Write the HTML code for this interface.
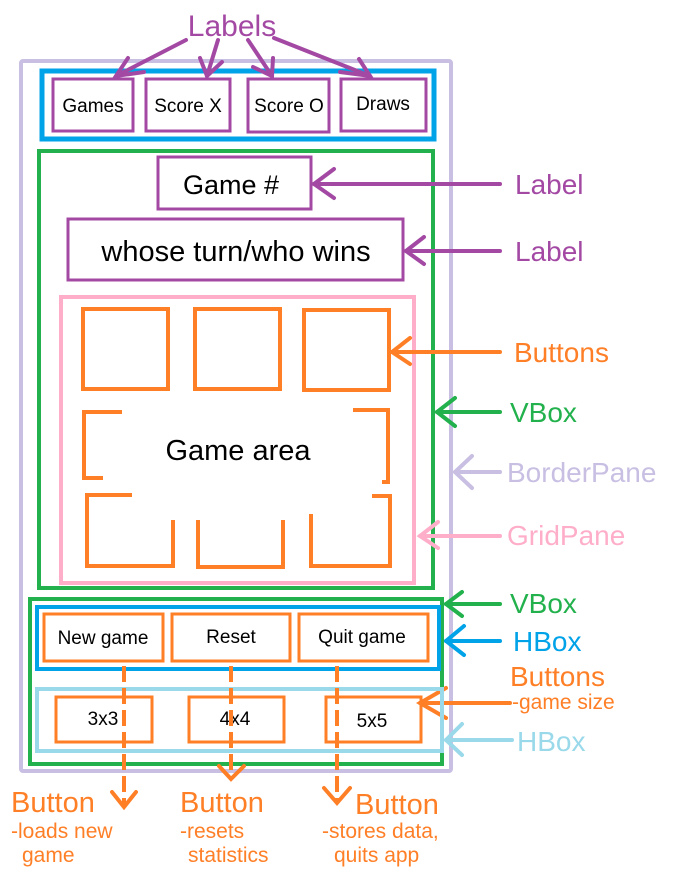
<!DOCTYPE html>
<html><head><meta charset="utf-8"><style>
html,body{margin:0;padding:0;background:#fff;}
svg{display:block;}
text{font-family:"Liberation Sans",sans-serif;}
</style></head><body>
<svg width="685" height="888" viewBox="0 0 685 888" xmlns="http://www.w3.org/2000/svg">
<!-- BorderPane -->
<rect x="21" y="61" width="430" height="710" fill="none" stroke="#c8bfe3" stroke-width="4" rx="2"/>
<!-- Top HBox -->
<rect x="42" y="71" width="392" height="68" fill="none" stroke="#00a2e8" stroke-width="5"/>
<g fill="none" stroke="#a349a4" stroke-width="3">
<rect x="53" y="79" width="80" height="52"/>
<rect x="146" y="79" width="84" height="52"/>
<rect x="248" y="79" width="81" height="53"/>
<rect x="341" y="79" width="85" height="52"/>
</g>
<g font-size="19" fill="#000" text-anchor="middle">
<text x="93" y="112">Games</text>
<text x="188" y="112">Score X</text>
<text x="289" y="112">Score O</text>
<text x="383" y="110">Draws</text>
</g>
<text x="232" y="36" font-size="30" fill="#a349a4" text-anchor="middle">Labels</text>
<!-- Label arrows -->
<g stroke="#a349a4" stroke-width="4" fill="none" stroke-linecap="round">
<line x1="186" y1="40" x2="116" y2="76"/><polyline points="128,58 116,76 144,72"/>
<line x1="218" y1="40" x2="207" y2="76"/><polyline points="200,58 207,76 222,62"/>
<line x1="248" y1="40" x2="272" y2="76"/><polyline points="253,67 272,76 273,58"/>
<line x1="274" y1="38" x2="370" y2="76"/><polyline points="340,72 370,76 359,59"/>
</g>
<!-- Middle VBox -->
<rect x="39" y="151" width="394" height="437" fill="none" stroke="#22b14c" stroke-width="4"/>
<rect x="158" y="157" width="153" height="52" fill="none" stroke="#a349a4" stroke-width="3"/>
<text x="231" y="194" font-size="27" text-anchor="middle">Game #</text>
<rect x="68" y="219" width="335" height="61" fill="none" stroke="#a349a4" stroke-width="3"/>
<text x="236" y="261" font-size="29" text-anchor="middle">whose turn/who wins</text>
<!-- GridPane -->
<rect x="61" y="297" width="353" height="286" fill="none" stroke="#ffaec9" stroke-width="4"/>
<g fill="none" stroke="#ff7f27" stroke-width="4">
<rect x="83" y="309" width="85" height="80"/>
<rect x="195" y="309" width="85" height="80"/>
<rect x="304" y="310" width="85" height="80"/>
<polyline points="122,412 84,412 84,478 103,478"/>
<polyline points="353,410 388,410 388,482 382,482"/>
<polyline points="132,495 87,495 87,566 173,566 173,520"/>
<polyline points="198,520 198,567 283,567 283,520"/>
<polyline points="311,514 311,566 390,566 390,496 372,496"/>
</g>
<text x="238" y="460" font-size="29" text-anchor="middle">Game area</text>
<!-- Right-side arrows and labels -->
<g fill="none" stroke-width="4" stroke-linecap="round">
<g stroke="#a349a4"><line x1="500" y1="184" x2="314" y2="184"/><polyline points="334,169 314,184 334,198"/>
<line x1="500" y1="251" x2="406" y2="251"/><polyline points="424,237 406,251 424,264"/></g>
<g stroke="#ff7f27"><line x1="500" y1="352" x2="392" y2="352"/><polyline points="410,338 392,352 410,364"/></g>
<g stroke="#22b14c"><line x1="500" y1="412" x2="437" y2="412"/><polyline points="455,398 437,412 455,426"/></g>
<g stroke="#c8bfe3"><line x1="500" y1="472" x2="455" y2="472"/><polyline points="472,456 455,472 472,488"/></g>
<g stroke="#ffaec9"><line x1="500" y1="536" x2="420" y2="536"/><polyline points="438,522 420,536 438,548"/></g>
<g stroke="#22b14c"><line x1="500" y1="604" x2="446" y2="604"/><polyline points="462,592 446,604 462,616"/></g>
<g stroke="#00a2e8"><line x1="500" y1="641" x2="446" y2="641"/><polyline points="464,626 446,641 464,655"/></g>
<g stroke="#ff7f27"><line x1="510" y1="703" x2="420" y2="703"/><polyline points="446,688 420,703 446,718"/></g>
<g stroke="#99d9ea"><line x1="512" y1="740" x2="446" y2="740"/><polyline points="462,724 446,740 462,755"/></g>
</g>
<g font-size="28">
<text x="515" y="194" fill="#a349a4">Label</text>
<text x="515" y="261" fill="#a349a4">Label</text>
<text x="514" y="362" fill="#ff7f27">Buttons</text>
<text x="510" y="422" fill="#22b14c">VBox</text>
<text x="507" y="482" fill="#c8bfe3">BorderPane</text>
<text x="507" y="545" fill="#ffaec9">GridPane</text>
<text x="510" y="613" fill="#22b14c">VBox</text>
<text x="513" y="651" fill="#00a2e8">HBox</text>
<text x="510" y="686" fill="#ff7f27">Buttons</text>
<text x="517" y="751" fill="#99d9ea">HBox</text>
</g>
<text x="512" y="709" font-size="21" fill="#ff7f27">-game size</text>
<!-- Bottom VBox -->
<rect x="30" y="599" width="412" height="165" fill="none" stroke="#22b14c" stroke-width="4"/>
<rect x="37" y="607" width="402" height="62" fill="none" stroke="#00a2e8" stroke-width="4"/>
<g fill="none" stroke="#ff7f27" stroke-width="3">
<rect x="44" y="614" width="119" height="47"/>
<rect x="172" y="614" width="118" height="47"/>
<rect x="299" y="614" width="129" height="47"/>
</g>
<g font-size="19" text-anchor="middle">
<text x="103" y="644">New game</text>
<text x="231" y="643">Reset</text>
<text x="362" y="643">Quit game</text>
</g>
<rect x="37" y="689" width="405" height="62" fill="none" stroke="#99d9ea" stroke-width="4"/>
<g fill="none" stroke="#ff7f27" stroke-width="3">
<rect x="56" y="697" width="96" height="45"/>
<rect x="189" y="697" width="95" height="45"/>
<rect x="326" y="697" width="95" height="45"/>
</g>
<g font-size="19" text-anchor="middle">
<text x="103" y="725">3x3</text>
<text x="235" y="725">4x4</text>
<text x="372" y="727">5x5</text>
</g>
<!-- Dashed connectors -->
<g stroke="#ff7f27" stroke-width="4" fill="none">
<line x1="124" y1="666" x2="124" y2="807" stroke-dasharray="16,6"/>
<polyline points="112,792 124,807 136,792" stroke-linecap="round"/>
<line x1="231" y1="666" x2="231" y2="778" stroke-dasharray="16,6"/>
<polyline points="219,766 231,779 244,766" stroke-linecap="round"/>
<line x1="337" y1="666" x2="337" y2="803" stroke-dasharray="16,6"/>
<polyline points="324,788 337,803 350,788" stroke-linecap="round"/>
</g>
<g fill="#ff7f27">
<text x="11" y="812" font-size="29">Button</text>
<text x="11" y="838" font-size="21">-loads new</text>
<text x="22" y="862" font-size="21">game</text>
<text x="180" y="812" font-size="29">Button</text>
<text x="180" y="838" font-size="21">-resets</text>
<text x="188" y="862" font-size="21">statistics</text>
<text x="355" y="814" font-size="29">Button</text>
<text x="322" y="838" font-size="21">-stores data,</text>
<text x="334" y="862" font-size="21">quits app</text>
</g>
</svg>
</body></html>
